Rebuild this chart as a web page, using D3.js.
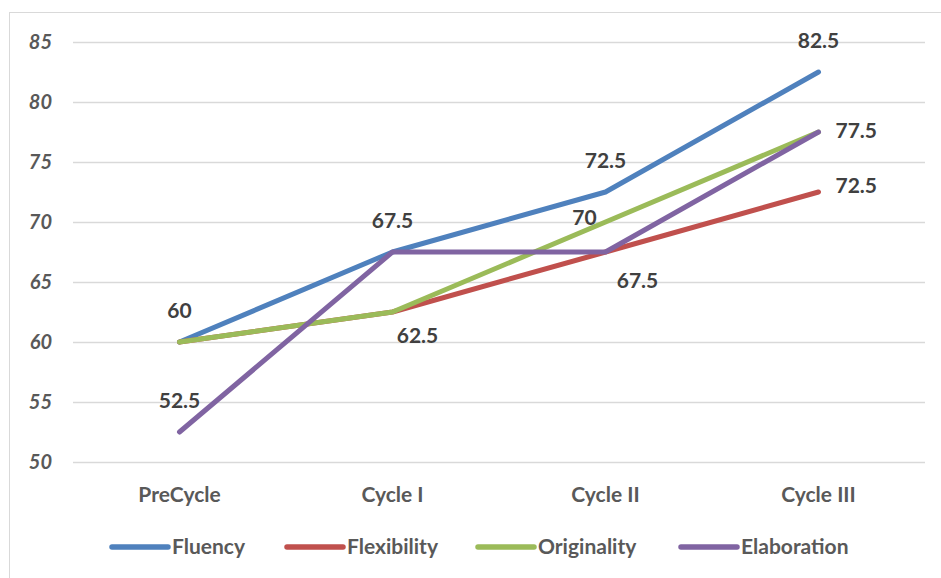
<!DOCTYPE html>
<html>
<head>
<meta charset="utf-8">
<script src="https://cdn.jsdelivr.net/npm/d3@7"></script>
<style>
  html, body { margin: 0; padding: 0; background: #fff; }
  svg { display: block; font-family: "Lato", "Open Sans", sans-serif; }
</style>
</head>
<body>
<svg id="chart" width="941" height="578"></svg>
<script>
// Scores per creativity aspect across the research cycles
const categories = ["PreCycle", "Cycle I", "Cycle II", "Cycle III"];
const seriesNames = ["Fluency", "Flexibility", "Originality", "Elaboration"];
const fluency     = [60, 67.5, 72.5, 82.5];
const flexibility = [60, 62.5, 67.5, 72.5];
const originality = [60, 62.5, 70, 77.5];
const elaboration = [52.5, 67.5, 67.5, 77.5];
const yTicks = [50, 55, 60, 65, 70, 75, 80, 85];

// Which points carry a value label, and on which side of the point it sits
const labelSides = {
  Fluency:     ["above", "above", "above", "above"],
  Flexibility: [null, null, "belowRightFar", "right"],
  Originality: [null, "belowRight", "aboveLeft", "rightHigh"],
  Elaboration: ["above", null, null, null]
};

const colors = {
  Fluency: "#4F81BD",
  Flexibility: "#C0504D",
  Originality: "#9BBB59",
  Elaboration: "#8064A2"
};

const valuesByName = {
  Fluency: fluency,
  Flexibility: flexibility,
  Originality: originality,
  Elaboration: elaboration
};

const svg = d3.select("#chart");
const W = 941, H = 578;
const FONT = "Lato, 'Open Sans', sans-serif";

// chart frame
svg.append("rect")
  .attr("x", 9.5).attr("y", 12.5)
  .attr("width", W + 10).attr("height", H + 10)
  .attr("fill", "#fff").attr("stroke", "#d9d9d9").attr("stroke-width", 1);

const plot = { left: 73, right: 925, top: 42, bottom: 462 };

const x = d3.scaleBand().domain(categories).range([plot.left, plot.right]);
const xc = c => x(c) + x.bandwidth() / 2;
const y = d3.scaleLinear().domain([50, 85]).range([plot.bottom, plot.top]);

// horizontal gridlines
svg.append("g").selectAll("line").data(yTicks).join("line")
  .attr("x1", plot.left).attr("x2", plot.right)
  .attr("y1", d => Math.round(y(d)) + 0.5).attr("y2", d => Math.round(y(d)) + 0.5)
  .attr("stroke", "#d9d9d9").attr("stroke-width", 1.5);

// y axis labels
const yAxis = d3.axisLeft(y).tickValues(yTicks).tickSize(0).tickPadding(0);
const gy = svg.append("g").attr("transform", `translate(52,0)`).call(yAxis);
gy.select(".domain").remove();
gy.selectAll("text")
  .attr("font-family", FONT)
  .attr("font-size", 20).attr("font-weight", 700).attr("font-style", "italic")
  .attr("fill", "#595959");

// x axis labels
const xAxis = d3.axisBottom(x).tickSize(0).tickPadding(0);
const gx = svg.append("g").attr("transform", `translate(0,${plot.bottom + 25})`).call(xAxis);
gx.select(".domain").remove();
gx.selectAll("text")
  .attr("font-family", FONT)
  .attr("font-size", 21).attr("font-weight", 700)
  .attr("fill", "#595959");

// series lines
const line = d3.line()
  .x((d, i) => xc(categories[i]))
  .y(d => y(d));

svg.append("g").selectAll("path").data(seriesNames).join("path")
  .attr("d", n => line(valuesByName[n]))
  .attr("fill", "none")
  .attr("stroke", n => colors[n])
  .attr("stroke-width", 5)
  .attr("stroke-linecap", "round")
  .attr("stroke-linejoin", "round");

// value labels
const offsets = {
  above:         { dx: 0,   dy: -24, anchor: "middle" },
  belowRight:    { dx: 25,  dy: 31,  anchor: "middle" },
  belowRightFar: { dx: 32,  dy: 36,  anchor: "middle" },
  aboveLeft:     { dx: -21, dy: 3,   anchor: "middle" },
  right:         { dx: 17,  dy: 1,   anchor: "start" },
  rightHigh:     { dx: 17,  dy: 6,   anchor: "start" }
};
const labels = [];
seriesNames.forEach(n => {
  valuesByName[n].forEach((v, i) => {
    const side = labelSides[n][i];
    if (side) labels.push({ v, cat: categories[i], o: offsets[side] });
  });
});
svg.append("g").selectAll("text").data(labels).join("text")
  .attr("x", d => xc(d.cat) + d.o.dx)
  .attr("y", d => y(d.v) + d.o.dy)
  .attr("text-anchor", d => d.o.anchor)
  .attr("font-family", FONT)
  .attr("font-size", 21).attr("font-weight", 700)
  .attr("fill", "#404040")
  .text(d => d.v);

// legend
const legendX = [112, 287, 478, 681];
const legendY = 547;
const lg = svg.append("g").selectAll("g").data(seriesNames).join("g")
  .attr("transform", (d, i) => `translate(${legendX[i]},${legendY})`);
lg.append("line")
  .attr("x1", 0).attr("x2", 56).attr("y1", 0).attr("y2", 0)
  .attr("stroke", d => colors[d]).attr("stroke-width", 5.5)
  .attr("stroke-linecap", "round");
lg.append("text")
  .attr("x", 60).attr("y", 7)
  .attr("font-family", FONT)
  .attr("font-size", 21).attr("font-weight", 700)
  .attr("fill", "#595959")
  .text(d => d);
</script>
</body>
</html>
